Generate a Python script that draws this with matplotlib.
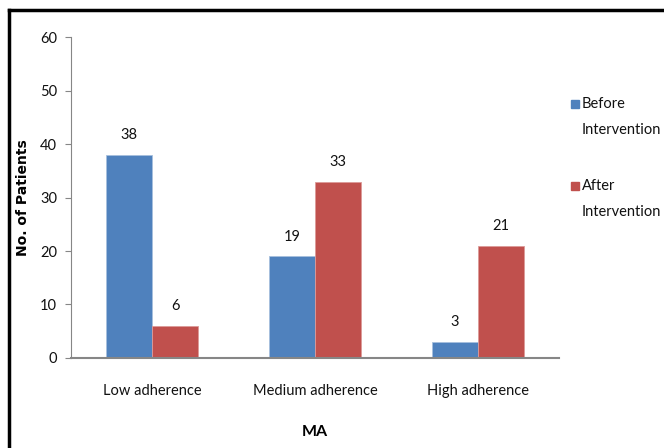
import numpy as np
import matplotlib.pyplot as plt
from matplotlib.lines import Line2D
from matplotlib.patches import Rectangle

categories = ['Low adherence', 'Medium adherence', 'High adherence']
before = [38, 19, 3]
after = [6, 33, 21]
series_names = ['Before\nIntervention', 'After\nIntervention']

blue = '#4f81bd'
red = '#c0504d'
grey = '#868686'

plt.rcParams['font.family'] = ['Lato', 'DejaVu Sans']
plt.rcParams['text.color'] = '#111111'
plt.rcParams['xtick.labelcolor'] = '#111111'
plt.rcParams['ytick.labelcolor'] = '#111111'

fig = plt.figure(figsize=(6.64, 4.48), dpi=100)
ax = fig.add_axes([0.107, 0.201, 0.735, 0.716])

x = np.arange(len(categories))
w = 0.283
b1 = ax.bar(x - w / 2, before, w, color=blue, edgecolor='#a7c0de', linewidth=0.6)
b2 = ax.bar(x + w / 2, after, w, color=red, edgecolor='#dc9a98', linewidth=0.6)

for bars, vals in [(b1, before), (b2, after)]:
    for r, v in zip(bars, vals):
        ax.text(r.get_x() + r.get_width() / 2, v + 2.4, str(v),
                ha='center', va='bottom', fontsize=10.5)

ax.set_xlim(-0.5, 2.5)
ax.set_ylim(0, 60)
ax.set_yticks(range(0, 61, 10))
ax.set_xticks(x)
ax.set_xticklabels(categories, fontsize=10.5)
ax.tick_params(axis='x', length=0, pad=19)
ax.tick_params(axis='y', length=4, color=grey, labelsize=10.5, pad=6)
for s in ['top', 'right']:
    ax.spines[s].set_visible(False)
ax.spines['left'].set_color(grey)
ax.spines['bottom'].set_color(grey)
ax.spines['bottom'].set_linewidth(1.5)

ax.set_ylabel('No. of Patients', fontsize=10, fontweight='bold',
              family=['DejaVu Sans'], labelpad=7)
ax.set_xlabel('MA', fontsize=11.5, fontweight='bold', labelpad=19)

# legend drawn by hand to match the wrapped entries
leg_y = [0.739, 0.556]
for name, col, yy in zip(series_names, [blue, red], leg_y):
    fig.add_artist(Rectangle((0.860, yy + 0.020), 0.012, 0.018, color=col,
                             transform=fig.transFigure))
    fig.text(0.876, yy, name, fontsize=10.5, va='center', ha='left',
             linespacing=2.1)

# figure border: top and left only
fig.add_artist(Line2D([0.013, 1.0], [0.977, 0.977], color='black', lw=2.5,
                      transform=fig.transFigure))
fig.add_artist(Line2D([0.013, 0.013], [0.0, 0.977], color='black', lw=2.5,
                      transform=fig.transFigure))

fig.savefig('out.png', dpi=100)
